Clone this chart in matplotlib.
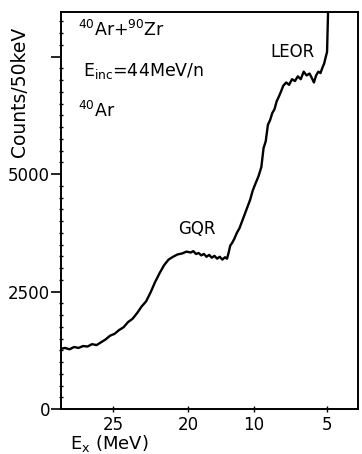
import numpy as np
import matplotlib
matplotlib.use("Agg")
import matplotlib.pyplot as plt
from matplotlib.ticker import FixedLocator, MultipleLocator

# excitation energy (MeV) and counts per 50 keV
ex = [28.47, 28.2, 27.9, 27.6, 27.3, 27.0, 26.7, 26.4, 26.1, 25.8, 25.5, 25.2,
      24.9, 24.6, 24.3, 24.0, 23.7, 23.4, 23.1, 22.8, 22.5, 22.2, 21.9, 21.6,
      21.3, 21.0, 20.7, 20.4, 20.1, 19.6, 19.2, 18.8, 18.4, 18.0, 17.6, 17.2,
      16.8, 16.4, 16.0, 15.6, 15.2, 14.8, 14.4, 14.1, 13.9, 13.6, 13.3, 13.0,
      12.6, 12.2, 11.8, 11.4, 11.0, 10.6, 10.2, 9.9, 9.7, 9.5, 9.35, 9.2,
      9.05, 8.9, 8.75, 8.6, 8.45, 8.3, 8.15, 8.0, 7.8, 7.6, 7.4, 7.2,
      7.0, 6.8, 6.6, 6.4, 6.2, 6.05, 5.9, 5.75, 5.6, 5.45, 5.3, 5.2,
      5.1, 5.0, 4.95, 4.92]
counts = [1280, 1300, 1270, 1320, 1300, 1340, 1330, 1380, 1360, 1420, 1480, 1560,
          1600, 1680, 1740, 1850, 1920, 2040, 2180, 2290, 2480, 2700, 2890, 3060,
          3180, 3240, 3290, 3310, 3350, 3330, 3360, 3300, 3320, 3270, 3300, 3240,
          3280, 3220, 3260, 3200, 3240, 3180, 3230, 3200, 3300, 3480, 3540, 3620,
          3750, 3850, 4000, 4150, 4300, 4450, 4650, 4800, 4950, 5150, 5550, 5700,
          6050, 6150, 6300, 6380, 6550, 6650, 6760, 6880, 6950, 6900, 7020, 6980,
          7080, 7020, 7180, 7100, 7140, 7050, 6950, 7100, 7180, 7150, 7280, 7350,
          7480, 7600, 8200, 8600]

x_ticks = [25, 20, 10, 5]
y_ticks = [0, 2500, 5000, 7500]
y_labels = ["0", "2500", "5000", ""]

# energy axis knots (ascending) -> plot position, piecewise linear scale
knot_ex = np.array([0.0, 5.0, 10.0, 20.0, 25.0, 30.0])
knot_pos = np.array([-400.0, -327.0, -254.0, -188.0, -113.0, -38.0])


def fwd(e):
    return np.interp(np.asarray(e, float), knot_ex, knot_pos)


def inv(p):
    return np.interp(np.asarray(p, float), knot_pos, knot_ex)


fig = plt.figure(figsize=(3.62, 4.54), dpi=100)
ax = fig.add_axes([61 / 362, 45 / 454, 297 / 362, 397 / 454])
ax.set_xscale("function", functions=(fwd, inv))

ax.plot(ex, counts, color="black", lw=1.7)
ax.set_xlim(28.47, 2.88)
ax.set_ylim(0, 8450)

for s in ax.spines.values():
    s.set_linewidth(1.4)

ax.xaxis.set_major_locator(FixedLocator(x_ticks))
ax.set_xticklabels([str(t) for t in x_ticks])
ax.xaxis.set_minor_locator(FixedLocator([]))
ax.yaxis.set_major_locator(FixedLocator(y_ticks))
ax.set_yticklabels(y_labels)
ax.yaxis.set_minor_locator(MultipleLocator(250))

ax.tick_params(axis="y", which="major", direction="out", length=7, width=1.2,
               pad=1, labelsize=12)
ax.tick_params(axis="y", which="minor", direction="inout", length=3, width=1)
ax.tick_params(axis="x", which="major", direction="inout", length=4, width=1,
               pad=3, labelsize=12)

ax.text(0.057, 0.955, r"$^{40}$Ar+$^{90}$Zr", transform=ax.transAxes,
        fontsize=12.5, ha="left", va="center")
ax.text(0.075, 0.852, r"E$_{\rm inc}$=44MeV/n", transform=ax.transAxes,
        fontsize=12.5, ha="left", va="center")
ax.text(0.057, 0.752, r"$^{40}$Ar", transform=ax.transAxes,
        fontsize=12.5, ha="left", va="center")

ax.text(18.6, 3830, "GQR", fontsize=12, ha="center", va="center")
ax.text(7.4, 7600, "LEOR", fontsize=12, ha="center", va="center")

fig.text(20 / 362, 1 - 92 / 454, "Counts/50keV", rotation=90,
         fontsize=13.5, ha="center", va="center")
fig.text(70 / 362, 1 - 443 / 454, r"E$_{\rm x}$ (MeV)",
         fontsize=13, ha="left", va="center")

fig.savefig("out.png", dpi=100)
